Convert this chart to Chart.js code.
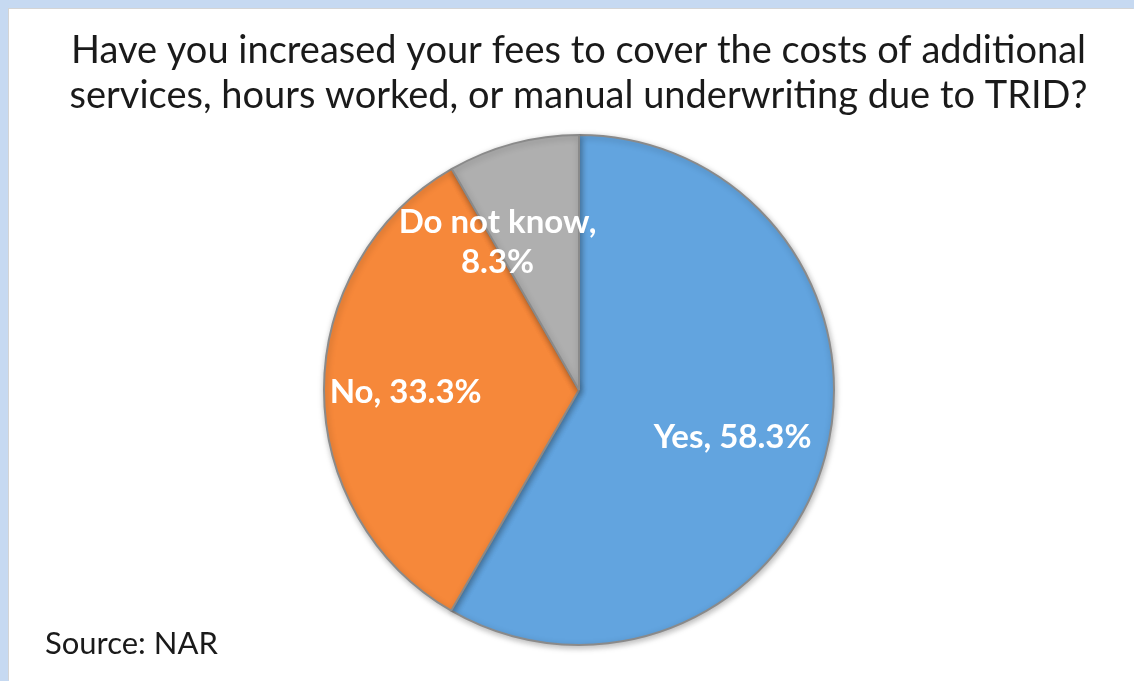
<!DOCTYPE html>
<html>
<head>
<meta charset="utf-8">
<script src="https://cdn.jsdelivr.net/npm/chart.js@4.4.1/dist/chart.umd.min.js"></script>
<style>
  html, body { margin: 0; padding: 0; background: #c6d9f1; width: 1134px; height: 681px; overflow: hidden; }
  #wrap { position: absolute; left: 9px; top: 9px; width: 1125px; height: 672px; background: #ffffff; box-shadow: -1px -1px 0 #d4d4d4; }
  #wrap canvas { display: block; }
</style>
</head>
<body>
<div id="wrap"><canvas id="c" width="1125" height="672"></canvas></div>
<script>
const categories = ["Yes", "No", "Do not know"];
const values = [58.3, 33.3, 8.3];
const displayLabels = [["Yes, 58.3%"], ["No, 33.3%"], ["Do not know,", "8.3%"]];
const titleLines = [
  "Have you increased your fees to cover the costs of additional",
  "services, hours worked, or manual underwriting due to TRID?"
];
const sourceText = "Source: NAR";
const colors = ["#62a4df", "#f6883a", "#afafaf"];

const FONT = "Lato, 'Open Sans', 'DejaVu Sans', sans-serif";

const titlePlugin = {
  id: 'bigTitle',
  afterDraw(chart, args, opts) {
    const ctx = chart.ctx;
    ctx.save();
    ctx.fillStyle = '#1a1a1a';
    ctx.font = opts.size + "px " + FONT;
    ctx.textAlign = 'center';
    ctx.textBaseline = 'alphabetic';
    titleLines.forEach((t, k) => {
      ctx.fillText(t, chart.width / 2 + opts.dx, opts.baseline + k * opts.lineHeight);
    });
    ctx.restore();
  }
};

const labelPlugin = {
  id: 'sliceLabels',
  afterDatasetsDraw(chart, args, opts) {
    const ctx = chart.ctx;
    const meta = chart.getDatasetMeta(0);
    ctx.save();
    ctx.fillStyle = '#ffffff';
    ctx.font = "bold " + opts.size + "px " + FONT;
    ctx.textAlign = 'center';
    ctx.textBaseline = 'middle';
    meta.data.forEach((arc, i) => {
      const p = arc.getProps(['x', 'y', 'startAngle', 'endAngle', 'outerRadius'], true);
      const mid = (p.startAngle + p.endAngle) / 2 + opts.angleShift[i] * Math.PI / 180;
      const r = p.outerRadius * opts.radius[i];
      const cx = p.x + Math.cos(mid) * r;
      const cy = p.y + Math.sin(mid) * r;
      const lines = displayLabels[i];
      const lh = opts.lineHeight;
      lines.forEach((t, k) => {
        ctx.fillText(t, cx, cy + (k - (lines.length - 1) / 2) * lh);
      });
    });
    ctx.restore();
  }
};

const shadowPlugin = {
  id: 'pieShadow',
  beforeDatasetsDraw(chart) {
    const ctx = chart.ctx;
    ctx.save();
    ctx.shadowColor = 'rgba(0,0,0,0.28)';
    ctx.shadowBlur = 6;
    ctx.shadowOffsetX = 1;
    ctx.shadowOffsetY = 2;
  },
  afterDatasetsDraw(chart) {
    chart.ctx.restore();
  }
};

const sourcePlugin = {
  id: 'sourceNote',
  afterDraw(chart, args, opts) {
    const ctx = chart.ctx;
    ctx.save();
    ctx.fillStyle = '#1a1a1a';
    ctx.font = opts.size + "px " + FONT;
    ctx.textAlign = 'left';
    ctx.textBaseline = 'alphabetic';
    ctx.fillText(sourceText, opts.x, chart.height - opts.bottom);
    ctx.restore();
  }
};

new Chart(document.getElementById('c'), {
  type: 'pie',
  data: {
    labels: categories,
    datasets: [{
      data: values,
      backgroundColor: colors,
      borderColor: '#8a8a8a',
      borderWidth: 2,
      hoverOffset: 0
    }]
  },
  options: {
    responsive: false,
    animation: false,
    rotation: 0,
    layout: { padding: { left: 314, right: 299, top: 125, bottom: 35 } },
    plugins: {
      legend: { display: false },
      tooltip: { enabled: false },
      title: { display: false },
      bigTitle: { size: 38, baseline: 54, lineHeight: 45, dx: 7 },
      sliceLabels: { size: 33, lineHeight: 40, radius: [0.63, 0.68, 0.66], angleShift: [2, -1, -14] },
      sourceNote: { size: 31, x: 36, bottom: 27 }
    }
  },
  plugins: [shadowPlugin, labelPlugin, sourcePlugin, titlePlugin]
});
</script>
</body>
</html>
